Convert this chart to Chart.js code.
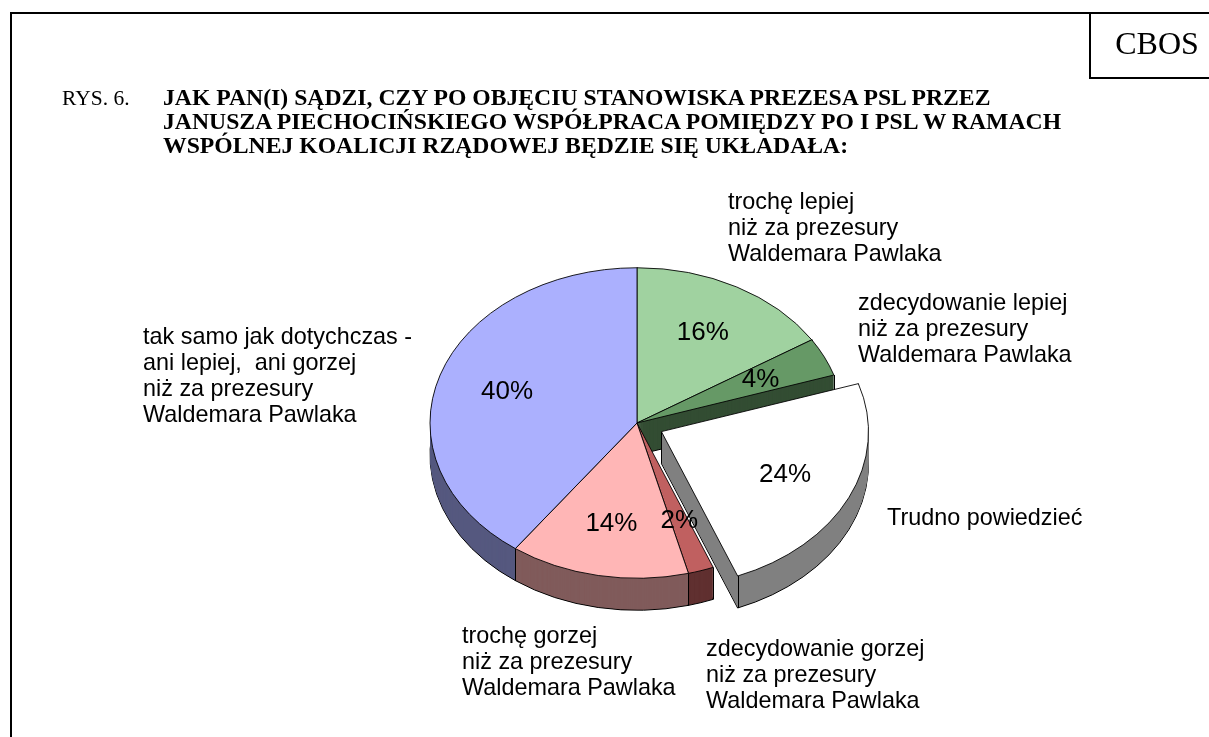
<!DOCTYPE html>
<html>
<head>
<meta charset="utf-8">
<script src="https://cdn.jsdelivr.net/npm/chart.js@4/dist/chart.umd.min.js"></script>
<style>
  html, body { margin: 0; padding: 0; background: #fff; }
  #wrap { position: relative; width: 1209px; height: 737px; overflow: hidden; }
  #c { position: absolute; left: 0; top: 0; }
  .abs { position: absolute; }
  .frame { left: 10px; top: 12px; width: 1199px; height: 725px; border-left: 2px solid #000; border-top: 2px solid #000; box-sizing: border-box; }
  .cbos { left: 1089px; top: 12px; width: 120px; height: 67px; border-left: 2px solid #000; border-bottom: 2px solid #000; box-sizing: border-box; }
  .cbosText { left: 1106px; top: 27px; width: 102px; text-align: center; font: 32px/32px "Liberation Serif", "Times New Roman", serif; }
  .rys { left: 62px; top: 86px; font: 21.5px/24px "Liberation Serif", "Times New Roman", serif; white-space: pre; }
  .title { left: 163px; top: 85px; font: bold 23.7px/24px "Liberation Serif", "Times New Roman", serif; white-space: pre; }
</style>
</head>
<body>
<div id="wrap">
  <canvas id="c" width="1209" height="737"></canvas>
  <div class="abs frame"></div>
  <div class="abs cbos"></div>
  <div class="abs cbosText">CBOS</div>
  <div class="abs rys" id="rys"></div>
  <div class="abs title" id="title"></div>
</div>
<script>
// ---------------- data ----------------
const figureNo = 'RYS. 6.';
const titleLines = [
  'JAK PAN(I) SĄDZI, CZY PO OBJĘCIU STANOWISKA PREZESA PSL PRZEZ',
  'JANUSZA PIECHOCIŃSKIEGO WSPÓŁPRACA POMIĘDZY PO I PSL W RAMACH',
  'WSPÓLNEJ KOALICJI RZĄDOWEJ BĘDZIE SIĘ UKŁADAŁA:'
];
const categories = [
  ['trochę lepiej', 'niż za prezesury', 'Waldemara Pawlaka'],
  ['zdecydowanie lepiej', 'niż za prezesury', 'Waldemara Pawlaka'],
  ['Trudno powiedzieć'],
  ['zdecydowanie gorzej', 'niż za prezesury', 'Waldemara Pawlaka'],
  ['trochę gorzej', 'niż za prezesury', 'Waldemara Pawlaka'],
  ['tak samo jak dotychczas -', 'ani lepiej,  ani gorzej', 'niż za prezesury', 'Waldemara Pawlaka']
];
const values = [16, 4, 24, 2, 14, 40];
const exploded = [false, false, true, false, false, false];

// ---------------- style ----------------
const topColors  = ['#A0D2A0', '#669966', '#FFFFFF', '#C06060', '#FFB6B6', '#ABB0FE'];
const sideColors = ['#506950', '#334D33', '#808080', '#603030', '#805B5B', '#55587F'];
const TILT = 0.75;       // vertical squash of the pie
const DEPTH = 32;        // thickness of the pie in px
const RADIUS = 207;
const EXPLODE = 108;     // Chart.js v4 arc offset (drawn as offset/4)
const LABEL_R = 0.66;
// label anchors (left x, first baseline y)
const labelAnchors = [
  [728, 209], [858, 310], [887, 525], [706, 656], [462, 643], [143, 344]
];
const LABEL_LH = 26;

document.getElementById('rys').textContent = figureNo;
document.getElementById('title').textContent = titleLines.join('\n');

function arcGeo(a) {
  const off = (a.options.offset || 0) / 4;
  const mid = (a.startAngle + a.endAngle) / 2;
  const fix = 1 - Math.sin(Math.min(Math.PI, a.circumference || 0));
  return {
    x: a.x + Math.cos(mid) * off,
    y: a.y + Math.sin(mid) * off,
    r: a.outerRadius + off * fix,
    s: a.startAngle, e: a.endAngle, mid: mid, off: off
  };
}

const pie3d = {
  id: 'pie3d',
  beforeDatasetsDraw(chart) {
    const ctx = chart.ctx;
    const arcs = chart.getDatasetMeta(0).data;
    const cy = arcs[0].y;
    const geo = arcs.map(arcGeo);
    const sy = y => cy + (y - cy) * TILT;
    // side walls, stacked from the bottom layer up
    for (let d = DEPTH; d >= 1; d--) {
      geo.forEach((g, i) => {
        ctx.save();
        ctx.translate(0, d + cy);
        ctx.scale(1, TILT);
        ctx.translate(0, -cy);
        ctx.beginPath();
        ctx.moveTo(g.x, g.y);
        ctx.arc(g.x, g.y, g.r, g.s, g.e);
        ctx.closePath();
        ctx.restore();
        ctx.fillStyle = sideColors[i];
        ctx.fill();
        if (d === DEPTH) {
          ctx.lineWidth = 1;
          ctx.strokeStyle = '#000';
          ctx.stroke();
        }
      });
    }
    // vertical edges
    ctx.save();
    ctx.strokeStyle = '#000';
    ctx.lineWidth = 1;
    ctx.beginPath();
    geo.forEach(g => {
      [g.s, g.e].forEach(a => {
        const px = Math.round(g.x + g.r * Math.cos(a)) + 0.5;
        const py = sy(g.y + g.r * Math.sin(a));
        ctx.moveTo(px, py);
        ctx.lineTo(px, py + DEPTH);
      });
      if (g.off > 0) {
        const px = Math.round(g.x) + 0.5;
        const py = sy(g.y);
        ctx.moveTo(px, py);
        ctx.lineTo(px, py + DEPTH);
      }
    });
    ctx.stroke();
    ctx.restore();
    // squash for the top faces drawn by Chart.js
    ctx.save();
    ctx.translate(0, cy);
    ctx.scale(1, TILT);
    ctx.translate(0, -cy);
  },
  afterDatasetsDraw(chart) {
    const ctx = chart.ctx;
    ctx.restore();
    const arcs = chart.getDatasetMeta(0).data;
    const cy = arcs[0].y;
    const total = values.reduce((s, v) => s + v, 0);
    ctx.save();
    ctx.fillStyle = '#000';
    ctx.font = '26px "Liberation Sans", Arial, sans-serif';
    ctx.textAlign = 'center';
    ctx.textBaseline = 'middle';
    arcs.forEach((a, i) => {
      const g = arcGeo(a);
      const rr = RADIUS * LABEL_R;
      const x = g.x + Math.cos(g.mid) * rr;
      const y = cy + (g.y + Math.sin(g.mid) * rr - cy) * TILT;
      ctx.fillText(Math.round(values[i] / total * 100) + '%', x, y);
    });
    ctx.font = '23.4px "Liberation Sans", Arial, sans-serif';
    ctx.textAlign = 'left';
    ctx.textBaseline = 'alphabetic';
    categories.forEach((lines, i) => {
      const [lx, ly] = labelAnchors[i];
      lines.forEach((t, k) => ctx.fillText(t, lx, ly + k * LABEL_LH));
    });
    ctx.restore();
  }
};

new Chart(document.getElementById('c'), {
  type: 'pie',
  data: {
    labels: categories.map(l => l.join(' ')),
    datasets: [{
      data: values,
      backgroundColor: topColors,
      borderColor: '#000',
      borderWidth: 1,
      offset: exploded.map(e => e ? EXPLODE : 0),
      hoverOffset: 0,
      radius: RADIUS,
      clip: false
    }]
  },
  options: {
    responsive: false,
    animation: false,
    events: [],
    devicePixelRatio: 1,
    radius: RADIUS,
    layout: { padding: { left: 337, right: 272, top: 200, bottom: 91 } },
    plugins: { legend: { display: false }, tooltip: { enabled: false } }
  },
  plugins: [pie3d]
});
</script>
</body>
</html>
